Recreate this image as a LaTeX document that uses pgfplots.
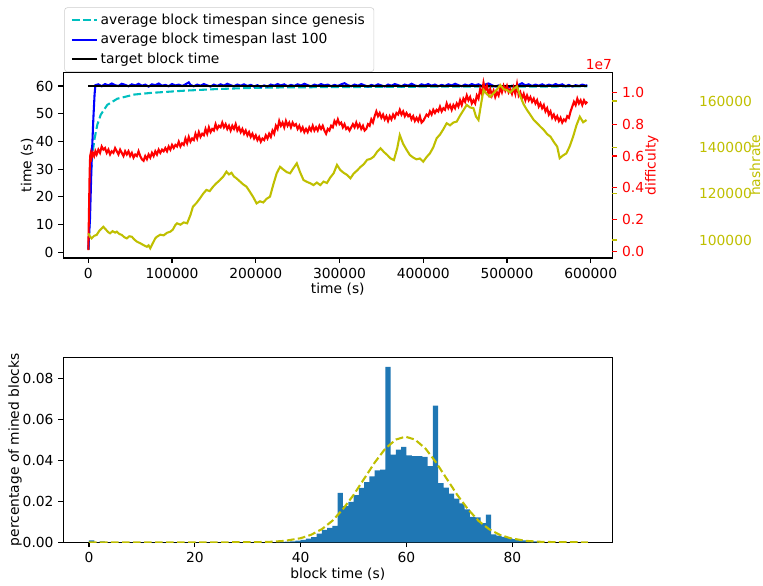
\documentclass[border=0pt]{standalone}
\usepackage{fontspec}
\setmainfont{DejaVu Sans}
\usepackage{pgfplots}
\pgfplotsset{compat=1.18}
\definecolor{mplc}{RGB}{0,191,191}
\definecolor{mply}{RGB}{191,191,0}
\definecolor{mplblue}{RGB}{31,119,180}
\pgfplotsset{
  base/.style={scale only axis, width=5.49in,
    /pgf/number format/assume math mode=true,
    tick align=outside, major tick length=0.0486in,
    ticklabel style={font=\fontsize{10}{12}\selectfont},
    label style={font=\fontsize{10}{12}\selectfont},
    axis line style={line width=0.8pt},
    every tick/.style={line width=0.8pt},
    scaled ticks=false},
  toprange/.style={height=1.855in, xmin=-29860, xmax=625820},
}
\begin{document}
\begin{tikzpicture}
\path[use as bounding box] (-0.633in,-3.27in) rectangle (6.997in,2.58in);
% ---------------- main top axis ----------------
\begin{axis}[base, toprange, ymin=-2.06, ymax=64.87, tick pos=left,
  xtick={0,100000,200000,300000,400000,500000,600000},
  ytick={0,10,20,30,40,50,60},
  xticklabel style={/pgf/number format/.cd, fixed, 1000 sep={}},
  xlabel={time (s)}, ylabel={time (s)},
  xlabel style={at={(rel axis cs:0.5,-0.167)}, anchor=center},
  ylabel style={at={(rel axis cs:-0.0661,0.5)}, anchor=center},
  legend cell align=left,
  legend style={at={(rel axis cs:0,1)}, anchor=south west, xshift=0.01in, yshift=0.005in,
    draw=black!20, rounded corners=2pt, fill=white, font=\fontsize{10}{12}\selectfont,
    inner xsep=4.5pt, inner ysep=2.5pt, row sep=1pt},
  legend image code/.code={\draw[mark repeat=2,mark phase=2,#1] plot coordinates {(0in,0in) (0.125in,0in) (0.25in,0in)};}
]
\addplot[mplc, line width=1.5pt, dash pattern=on 5.55pt off 2.4pt] coordinates {
(500,1) (2000,20) (3500,30) (5100,35.8) (7500,41) (10750,46) (14800,49.6) (22700,53.2) (34600,55.4) (54600,56.9) (74500,57.5) (114300,58.3) (154100,58.9) (194000,59.3) (233700,59.5) (289500,59.6) (400000,59.75) (500000,59.8) (596000,59.85)};
\addlegendentry{average block timespan since genesis}
\addplot[blue, line width=1.5pt] coordinates {
(0,1) (2000,12) (4000,33) (6000,48) (7500,57) (8500,60.3) (12000,60.6) (16000,59.9) (20000,60.7) (24000,60.2) (28000,60.9) (32000,60.3) (36000,60.0) (40000,60.8) (44000,60.4) (48000,59.9) (52000,60.6) (56000,60.2) (60000,60.8) (64000,60.1) (68000,60.5) (72000,59.8) (76000,60.6) (80000,60.3) (84000,60.9) (88000,60.1) (92000,60.4) (96000,59.9) (100000,60.7) (104000,60.2) (108000,60.5) (112000,60.0) (116000,60.6) (120000,61.3) (122000,60.4) (126000,59.9) (130000,60.5) (134000,60.1) (138000,60.7) (142000,60.2) (146000,59.8) (150000,60.5) (154000,60.0) (158000,60.6) (162000,60.1) (166000,60.8) (170000,60.3) (174000,59.9) (178000,60.5) (182000,60.1) (186000,60.6) (190000,60.0) (194000,60.4) (198000,59.8) (202000,60.3) (206000,59.7) (210000,60.2) (214000,59.8) (218000,60.5) (222000,60.1) (226000,60.7) (230000,60.2) (234000,60.6) (238000,59.9) (242000,60.4) (246000,60.0) (250000,60.6) (254000,60.2) (258000,60.8) (262000,60.3) (266000,59.9) (270000,60.5) (274000,60.1) (278000,60.7) (282000,60.2) (286000,60.5) (290000,59.9) (294000,60.4) (298000,60.0) (302000,60.6) (306000,61.0) (310000,60.3) (314000,59.9) (318000,60.5) (322000,60.1) (326000,60.7) (330000,60.2) (334000,59.8) (338000,60.4) (342000,60.0) (346000,60.6) (350000,60.2) (354000,59.8) (358000,60.5) (362000,60.1) (366000,60.7) (370000,60.3) (374000,59.9) (378000,60.5) (382000,60.1) (386000,60.8) (390000,60.2) (394000,59.9) (398000,60.6) (402000,60.2) (406000,60.7) (410000,60.1) (414000,60.5) (418000,59.9) (422000,60.4) (426000,60.0) (430000,60.6) (434000,60.2) (438000,60.8) (442000,60.3) (446000,59.9) (450000,60.5) (454000,60.1) (458000,60.7) (462000,60.2) (466000,60.6) (470000,60.0) (474000,60.5) (478000,60.9) (482000,60.3) (486000,59.8) (490000,60.2) (494000,59.6) (498000,60.0) (502000,59.5) (506000,60.1) (510000,59.7) (514000,60.4) (518000,61.0) (522000,60.2) (526000,60.6) (530000,60.0) (534000,60.5) (538000,60.1) (542000,60.6) (546000,60.0) (550000,60.5) (554000,60.1) (558000,60.7) (562000,60.2) (566000,60.6) (570000,59.9) (574000,60.4) (578000,59.8) (582000,60.3) (586000,60.0) (590000,60.5) (594000,60.1) (596000,60.3)};
\addlegendentry{average block timespan last 100}
\addplot[black, line width=1.5pt] coordinates {(0,60) (596000,60)};
\addlegendentry{target block time}
\end{axis}
% ---------------- difficulty axis ----------------
\begin{axis}[base, toprange, ymin=-0.0395, ymax=1.124,
  axis x line=none, axis y line*=right, y axis line style={draw=none},
  ytick={0,0.2,0.4,0.6,0.8,1.0},
  yticklabel style={text=red, /pgf/number format/.cd, fixed, fixed zerofill, precision=1},
  ytick style={draw=red},
  ylabel={difficulty},
  ylabel style={at={(rel axis cs:1.0718,0.5)}, anchor=center, text=red},
  extra description/.code={\node[anchor=base east, inner sep=0pt, text=red, font=\fontsize{10}{12}\selectfont, yshift=0.03in] at (1,1) {1e7};}
]
\addplot[red, line width=1.5pt] coordinates {
(0,0.01) (800,0.25) (1600,0.50) (2200,0.60) (3000,0.62) (4000,0.59) (5500,0.62) (7000,0.60) (8500,0.63) (10000,0.61) (12000,0.64) (14000,0.62) (16000,0.66) (18000,0.64) (20000,0.65) (22000,0.62) (24000,0.64) (26000,0.61) (28000,0.63) (30000,0.62) (32000,0.65) (34000,0.63) (36000,0.61) (38000,0.64) (40000,0.62) (42000,0.60) (44000,0.63) (46000,0.61) (48000,0.63) (50000,0.60) (52000,0.62) (54000,0.59) (56000,0.61) (58000,0.60) (60000,0.63) (62000,0.60) (64000,0.58) (66000,0.57) (68000,0.60) (70000,0.58) (72000,0.61) (74000,0.59) (76000,0.62) (78000,0.60) (80000,0.63) (82000,0.61) (84000,0.64) (86000,0.62) (88000,0.64) (90000,0.63) (92000,0.65) (94000,0.63) (96000,0.66) (98000,0.64) (100000,0.67) (102000,0.65) (104000,0.67) (106000,0.66) (108000,0.69) (110000,0.66) (112000,0.68) (114000,0.67) (116000,0.71) (118000,0.68) (120000,0.72) (122000,0.69) (124000,0.71) (126000,0.70) (128000,0.74) (130000,0.71) (132000,0.75) (134000,0.72) (136000,0.74) (138000,0.73) (140000,0.77) (142000,0.74) (144000,0.78) (146000,0.75) (148000,0.77) (150000,0.76) (152000,0.80) (154000,0.77) (156000,0.79) (158000,0.78) (160000,0.81) (162000,0.78) (164000,0.80) (166000,0.77) (168000,0.79) (170000,0.76) (172000,0.79) (174000,0.77) (176000,0.80) (178000,0.76) (180000,0.78) (182000,0.75) (184000,0.77) (186000,0.74) (188000,0.76) (190000,0.73) (192000,0.75) (194000,0.72) (196000,0.74) (198000,0.71) (200000,0.73) (202000,0.70) (204000,0.72) (206000,0.69) (208000,0.71) (210000,0.70) (212000,0.73) (214000,0.71) (216000,0.74) (218000,0.72) (220000,0.76) (222000,0.74) (224000,0.79) (226000,0.77) (228000,0.82) (230000,0.79) (232000,0.81) (234000,0.78) (236000,0.82) (238000,0.79) (240000,0.81) (242000,0.78) (244000,0.81) (246000,0.79) (248000,0.80) (250000,0.77) (252000,0.79) (254000,0.76) (256000,0.78) (258000,0.75) (260000,0.77) (262000,0.75) (264000,0.78) (266000,0.76) (268000,0.79) (270000,0.76) (272000,0.78) (274000,0.76) (276000,0.79) (278000,0.77) (280000,0.79) (282000,0.76) (284000,0.74) (286000,0.77) (288000,0.76) (290000,0.79) (292000,0.78) (294000,0.82) (296000,0.80) (298000,0.83) (300000,0.80) (302000,0.81) (304000,0.78) (306000,0.80) (308000,0.77) (310000,0.78) (312000,0.76) (314000,0.78) (316000,0.80) (318000,0.78) (320000,0.81) (322000,0.78) (324000,0.80) (326000,0.77) (328000,0.79) (330000,0.76) (332000,0.77) (334000,0.80) (336000,0.79) (338000,0.83) (340000,0.81) (342000,0.85) (344000,0.88) (346000,0.85) (348000,0.87) (350000,0.84) (352000,0.86) (354000,0.83) (356000,0.85) (358000,0.82) (360000,0.85) (362000,0.83) (364000,0.86) (366000,0.84) (368000,0.87) (370000,0.86) (372000,0.89) (374000,0.86) (376000,0.88) (378000,0.85) (380000,0.87) (382000,0.85) (384000,0.86) (386000,0.83) (388000,0.85) (390000,0.82) (392000,0.84) (394000,0.82) (396000,0.85) (398000,0.81) (400000,0.82) (402000,0.84) (404000,0.86) (406000,0.85) (408000,0.88) (410000,0.86) (412000,0.89) (414000,0.87) (416000,0.89) (418000,0.88) (420000,0.91) (422000,0.88) (424000,0.90) (426000,0.89) (428000,0.93) (430000,0.90) (432000,0.92) (434000,0.89) (436000,0.92) (438000,0.90) (440000,0.93) (442000,0.91) (444000,0.95) (446000,0.92) (448000,0.96) (450000,0.94) (452000,0.98) (454000,0.95) (456000,0.97) (458000,0.93) (460000,0.95) (462000,0.93) (464000,0.98) (466000,0.96) (468000,1.02) (470000,0.99) (472000,1.06) (474000,1.01) (476000,1.04) (478000,0.99) (480000,1.02) (482000,0.98) (484000,1.01) (486000,0.97) (488000,1.00) (490000,0.98) (492000,1.03) (494000,1.00) (496000,1.04) (498000,1.01) (500000,1.04) (502000,1.00) (504000,1.02) (506000,0.99) (508000,1.03) (510000,0.99) (512000,1.05) (514000,0.98) (516000,1.00) (518000,0.96) (520000,0.99) (522000,0.95) (524000,0.98) (526000,0.95) (528000,0.97) (530000,0.94) (532000,0.96) (534000,0.93) (536000,0.95) (538000,0.91) (540000,0.93) (542000,0.90) (544000,0.92) (546000,0.88) (548000,0.90) (550000,0.86) (552000,0.88) (554000,0.84) (556000,0.86) (558000,0.83) (560000,0.85) (562000,0.82) (564000,0.84) (566000,0.81) (568000,0.83) (570000,0.82) (572000,0.85) (574000,0.84) (576000,0.88) (578000,0.91) (580000,0.94) (582000,0.92) (584000,0.96) (586000,0.93) (588000,0.95) (590000,0.92) (592000,0.95) (594000,0.93) (596000,0.94)};
\end{axis}
% ---------------- hashrate axis ----------------
\begin{axis}[base, toprange, ymin=92230, ymax=172300,
  axis x line=none, axis y line*=right, y axis line style={draw=none},
  ytick={100000,120000,140000,160000},
  yticklabel style={text=mply, xshift=0.77in, /pgf/number format/.cd, fixed, 1000 sep={}},
  ytick style={draw=mply},
  ylabel={hashrate},
  ylabel style={at={(rel axis cs:1.2600,0.5)}, anchor=center, inner sep=1pt, text=mply}
]
\addplot[mply, line width=1.5pt] coordinates {
(0,102900) (2000,101500) (4000,100700) (7000,101800) (10000,102200) (13000,103900) (16000,105000) (18000,105700) (21000,104500) (24000,103300) (26000,102900) (29000,103800) (32000,103200) (34000,103600) (37000,102600) (40000,102200) (43000,101200) (46000,100700) (49000,101600) (52000,101400) (55000,100200) (58000,99300) (62000,98600) (65000,98000) (68000,97400) (70000,97100) (72000,97700) (74000,96400) (77000,98600) (80000,100700) (82000,101400) (86000,102300) (90000,102000) (94000,103100) (98000,103600) (101000,104500) (104000,106500) (106000,107200) (110000,106600) (114000,107600) (118000,107200) (122000,110800) (125000,114400) (129000,115900) (133000,117800) (137000,119900) (141000,121600) (145000,121100) (149000,123000) (153000,124500) (157000,125800) (161000,127300) (165000,129500) (168000,128300) (171000,129000) (174000,127400) (177000,126600) (181000,125300) (185000,124000) (189000,123000) (193000,120800) (197000,118500) (201000,115800) (205000,116700) (209000,116200) (213000,117800) (217000,118700) (221000,124000) (225000,128800) (229000,131600) (233000,130400) (237000,129300) (241000,128800) (245000,131000) (249000,133100) (253000,129200) (257000,125900) (261000,125100) (265000,124500) (269000,123700) (273000,124800) (277000,123700) (281000,125200) (285000,124600) (289000,127000) (293000,128800) (297000,132400) (301000,130200) (305000,129000) (309000,128100) (313000,126600) (317000,128700) (321000,130000) (325000,131500) (329000,132700) (333000,134600) (337000,135000) (341000,136000) (345000,138100) (349000,139600) (353000,138000) (357000,136700) (361000,135200) (365000,134500) (369000,139700) (372000,145300) (376000,141500) (380000,139000) (384000,136700) (388000,135600) (392000,134800) (396000,135200) (400000,133800) (404000,135800) (408000,137400) (412000,140000) (416000,143900) (420000,145500) (424000,147800) (428000,150400) (432000,149500) (436000,150700) (440000,151100) (444000,153700) (448000,156000) (452000,158300) (456000,157200) (460000,156900) (463000,153300) (466000,151800) (469000,158500) (472000,164800) (476000,163000) (480000,161800) (484000,163300) (488000,165000) (492000,166900) (496000,165100) (500000,164700) (504000,163700) (508000,165200) (512000,166200) (516000,162000) (520000,158500) (524000,156100) (528000,154000) (532000,151800) (536000,150400) (540000,148900) (544000,147500) (548000,145700) (552000,144600) (556000,142300) (560000,140300) (563000,135300) (567000,136500) (571000,137400) (575000,140500) (579000,144600) (583000,149500) (587000,153200) (591000,150800) (595000,151800)};
\end{axis}
% ---------------- histogram ----------------
\begin{axis}[base, at={(0,-2.843in)}, height=1.85in, xmin=-4.857, xmax=98.9, ymin=0, ymax=0.0902,
  tick pos=left, xtick={0,20,40,60,80}, ytick={0,0.02,0.04,0.06,0.08},
  yticklabel style={/pgf/number format/.cd, fixed, fixed zerofill, precision=2},
  xlabel={block time (s)}, ylabel={percentage of mined blocks},
  xlabel style={at={(rel axis cs:0.5,-0.170)}, anchor=center},
  ylabel style={at={(rel axis cs:-0.088,0.5)}, anchor=center}
]
\addplot[ybar interval, fill=mplblue, draw=none] coordinates {
(0,0.0010) (1,0) (2,0.0005) (3,0) (36,0.0002) (37,0.0003) (38,0.0005) (39,0.0008) (40,0.0012) (41,0.0018) (42,0.0025) (43,0.0042) (44,0.0060) (45,0.0070) (46,0.0080) (47,0.0241) (48,0.0176) (49,0.0197) (50,0.0230) (51,0.0265) (52,0.0294) (53,0.0322) (54,0.0351) (55,0.0354) (56,0.0855) (57,0.0428) (58,0.0452) (59,0.0465) (60,0.0424) (61,0.0420) (62,0.0420) (63,0.0416) (64,0.0371) (65,0.0667) (66,0.0289) (67,0.0267) (68,0.0237) (69,0.0213) (70,0.0190) (71,0.0160) (72,0.0124) (73,0.0121) (74,0.0094) (75,0.0135) (76,0.0039) (77,0.0033) (78,0.0026) (79,0.0020) (80,0.0016) (81,0.0012) (82,0.0009) (83,0.0006) (84,0.0004) (85,0.0002) (86,0)};
\addplot[mply, line width=1.5pt, dash pattern=on 5.55pt off 2.4pt] coordinates {
(0,0) (25,0) (30,0.00003) (34,0.0002) (37,0.0007) (40,0.0020) (42,0.0037) (44,0.0064) (46,0.0105) (48,0.0162) (50,0.0231) (52,0.0310) (54,0.0389) (56,0.0457) (58,0.0501) (59.8,0.0515) (61.6,0.0501) (63.6,0.0457) (65.6,0.0389) (67.6,0.0310) (69.6,0.0231) (71.6,0.0162) (73.6,0.0105) (75.6,0.0064) (77.6,0.0037) (79.6,0.0020) (82.6,0.0007) (85.6,0.0002) (89.6,0.00003) (94.3,0)};
\end{axis}
\end{tikzpicture}
\end{document}
